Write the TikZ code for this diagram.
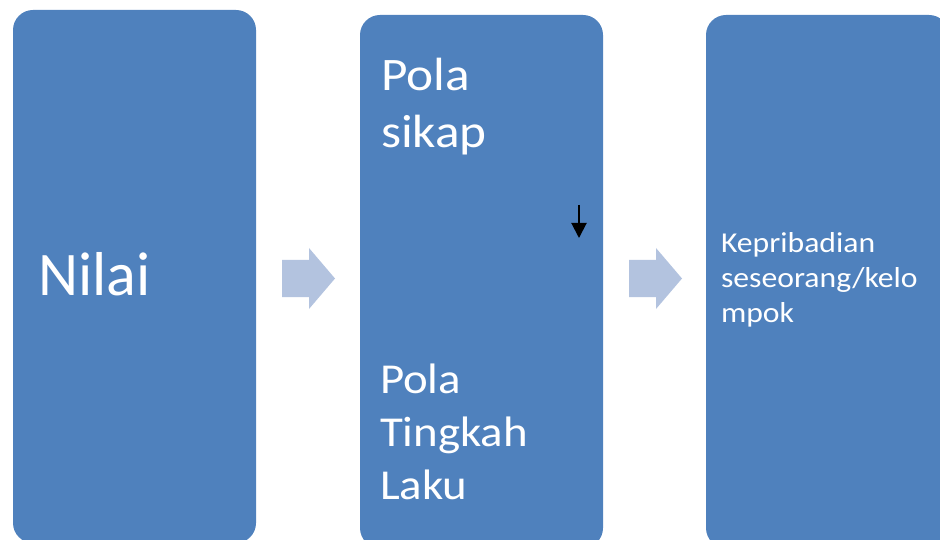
\documentclass[tikz,border=0pt]{standalone}
\usepackage{fontspec}
\setmainfont{Carlito}
\newfontfamily\widefont[FakeStretch=1.1]{Carlito}
\usetikzlibrary{arrows.meta}
\definecolor{boxblue}{HTML}{4F81BD}
\definecolor{arrowblue}{HTML}{B3C3DF}

\begin{document}
\begin{tikzpicture}[x=1pt,y=-1pt,
  panel/.style={fill=boxblue, draw=none, rounded corners=20pt, anchor=north west,
    minimum width=243pt, minimum height=533pt, inner sep=0pt, outer sep=0pt},
  label/.style={text=white, anchor=base west, inner sep=0pt, outer sep=0pt, align=left},
  flow/.style={fill=arrowblue, draw=none}]
\useasboundingbox (0,0) rectangle (940,540);
\clip (0,0) rectangle (940,540);

% three panels
\node[panel] (nilai) at (13,10) {};
\node[panel] (pola) at (360,15) {};
\node[panel] (pribadi) at (706,15) {};

% block arrows between the panels
\fill[flow] (282,260) -- (309,260) -- (309,248) -- (335,278.5) -- (309,309) -- (309,297) -- (282,297) -- cycle;
\fill[flow] (629,260) -- (656,260) -- (656,248) -- (682,278.5) -- (656,309) -- (656,297) -- (629,297) -- cycle;

% panel texts (base anchor sits on the last line of each text)
\node[label, font=\fontsize{62}{75}\selectfont] (tnilai) at (38,295) {Nilai};
\node[label, font=\widefont\fontsize{46.6}{57}\selectfont] (tsikap) at (381,148) {Pola\\sikap};
\node[label, font=\widefont\fontsize{42.6}{53}\selectfont] (tlaku) at (380,499) {Pola\\Tingkah\\Laku};
\node[label, font=\widefont\fontsize{28.8}{35}\selectfont] (tpribadi) at (721,322) {Kepribadian\\seseorang/kelo\\mpok};

% small down arrow inside the middle panel
\coordinate (dstart) at (579,205);
\coordinate (dend) at (579,238);
\draw[line width=2pt, -{Triangle[width=15pt,length=15pt]}] (dstart) -- (dend);
\end{tikzpicture}
\end{document}
